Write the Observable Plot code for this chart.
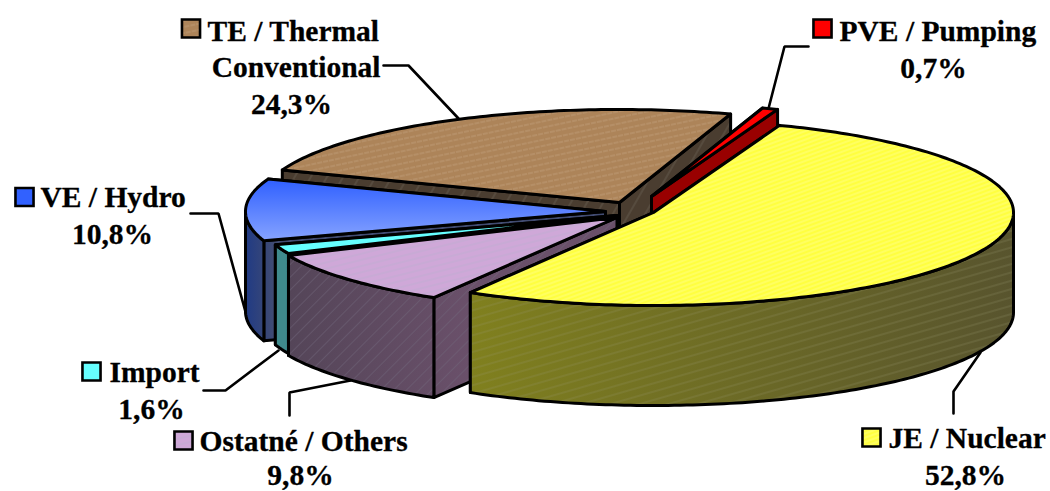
<!DOCTYPE html>
<html>
<head>
<meta charset="utf-8">
<script src="https://cdn.jsdelivr.net/npm/d3@7"></script>
<script src="https://cdn.jsdelivr.net/npm/@observablehq/plot@0.6"></script>
<style>html,body{margin:0;padding:0;background:#fff}svg{display:block}</style>
</head>
<body>
<div id="chart"></div>
<script>
// ---- data, clockwise from the starting angle
const names = ["JE / Nuclear", "Ostatné / Others", "Import", "VE / Hydro", "TE / Thermal Conventional", "PVE / Pumping"];
const shares = [52.8, 9.8, 1.6, 10.8, 24.3, 0.7];
const shareLabels = ["52,8%", "9,8%", "1,6%", "10,8%", "24,3%", "0,7%"];

// ---- layout of the pie
const startAngle = 69.5, rx = 360, ry = 93, depth = 100;
const apexX = [653, 616.5, 616.5, 605, 619, 651];
const apexY = [212, 217, 215, 211, 202, 196];
const paintOrder = [4, 5, 3, 2, 1, 0];

// ---- styles per slice
const topFill = ["url(#pTopY)", "url(#pTopO)", "#66ffff", "url(#gTopB)", "url(#pTopT)", "#ff0000"];
const wallFill = ["url(#gWallY)", "url(#gWallO)", "#3f8a8c", "url(#gWallB)", "#4a3d30", "#990000"];
const wallHatch = ["url(#hWallY)", "url(#hWallO)", null, null, "url(#hWallT)", null];

// ---- label layout: [text, x, y, anchor]
const labelLines = [
  ["TE / Thermal", 207, 40, "start"], ["Conventional", 380, 76, "end"], [shareLabels[4], 291, 113, "middle"],
  ["PVE / Pumping", 839, 40, "start"], [shareLabels[5], 933, 77, "middle"],
  ["VE / Hydro", 40, 206, "start"], [shareLabels[3], 112, 243, "middle"],
  ["Import", 109, 381, "start"], [shareLabels[2], 151, 418, "middle"],
  ["Ostatné / Others", 199, 450, "start"], [shareLabels[1], 300, 484.5, "middle"],
  ["JE / Nuclear", 888, 447, "start"], [shareLabels[0], 965, 484.5, "middle"]
];
const swatchX = [871, 183, 91, 24, 190.5, 822];
const swatchY = [437, 440, 371, 196.5, 28, 28];
const leaders = [
  [[953, 413], [953, 391], [980, 352]],
  [[289, 415], [289, 392], [350, 380]],
  [[203, 390], [225, 390], [278, 350]],
  [[190, 213], [218, 213], [246, 315]],
  [[383, 65], [408, 65], [458, 118]],
  [[808, 46], [784, 46], [768, 108]]
];

// ---- geometry derived from the values
const total = d3.sum(shares);
let running = startAngle;
const slices = shares.map((s, i) => {
  const t0 = running, t1 = running - s / total * 360;
  running = t1;
  return {i, t0, t1, cx: apexX[i], cy: apexY[i]};
});
const rad = Math.PI / 180;
const rim = (sl, t, dz = 0) => [sl.cx + rx * Math.cos(t * rad), sl.cy - ry * Math.sin(t * rad) + dz];
const arc = (sl, a, b, dz = 0) => {
  const n = Math.max(2, Math.ceil(Math.abs(a - b)));
  return d3.range(n + 1).map(k => rim(sl, a + (b - a) * k / n, dz));
};
const cutFace = (sl, t) => [[sl.cx, sl.cy], rim(sl, t), rim(sl, t, depth), [sl.cx, sl.cy + depth]];
// the front of the rim is where sin(t) <= 0: angles from -180 to 0
function wallPolys(sl) {
  const a = Math.min(sl.t0, 0), b = Math.max(sl.t1, -180);
  return a > b ? [[...arc(sl, a, b), ...arc(sl, b, a, depth)]] : [];
}

const marks = [];
const outline = {x: d => d[0], y: d => d[1], curve: "linear-closed", strokeLinejoin: "round"};
const face = (pts, fill, hatch) => {
  marks.push(Plot.line(pts, {...outline, fill, stroke: hatch ? "none" : "#000", strokeWidth: 3}));
  if (hatch) marks.push(Plot.line(pts, {...outline, fill: hatch, stroke: "#000", strokeWidth: 3}));
};

// leaders lie under the pie
for (const l of leaders) marks.push(Plot.line(l, {x: d => d[0], y: d => d[1], stroke: "#000", strokeWidth: 2.6, strokeLinejoin: "miter"}));

for (const i of paintOrder) {
  const sl = slices[i];
  const cuts = [sl.t0, sl.t1].sort((a, b) => rim(sl, a)[1] - rim(sl, b)[1]);
  for (const t of cuts) face(cutFace(sl, t), wallFill[i], wallHatch[i]);
  for (const w of wallPolys(sl)) face(w, wallFill[i], wallHatch[i]);
  face([[sl.cx, sl.cy], ...arc(sl, sl.t0, sl.t1)], topFill[i]);
}

// labels and swatches
for (const anchor of ["start", "middle", "end"]) {
  marks.push(Plot.text(labelLines.filter(d => d[3] === anchor), {
    x: d => d[1], y: d => d[2], text: d => d[0], textAnchor: anchor,
    lineAnchor: "bottom", fontFamily: "Liberation Serif", fontWeight: "bold", fontSize: 29.5, fill: "#000",
    stroke: "#000", strokeWidth: 0.3
  }));
}
shares.forEach((_, i) => marks.push(Plot.dot([i], {
  x: k => swatchX[k], y: k => swatchY[k], symbol: "square", r: 10.2,
  fill: topFill[i], stroke: "#000", strokeWidth: 2.6
})));

const chart = Plot.plot({
  width: 1050, height: 491, margin: 0,
  x: {domain: [0, 1050], axis: null},
  y: {domain: [491, 0], axis: null},
  marks
});

// paint definitions referred to by url(#...)
const hatch = (id, base, line, angle, gap, w, dash) => `
  <pattern id="${id}" patternUnits="userSpaceOnUse" width="${gap}" height="${gap}" patternTransform="rotate(${angle})">
    ${base ? `<rect width="${gap}" height="${gap}" fill="${base}"/>` : ""}
    <line x1="0" y1="${gap / 2}" x2="${gap}" y2="${gap / 2}" stroke="${line}" stroke-width="${w}" ${dash ? `stroke-dasharray="${dash}"` : ""}/>
  </pattern>`;
const grad = (id, x1, c1, x2, c2) => `
  <linearGradient id="${id}" gradientUnits="userSpaceOnUse" x1="${x1}" y1="0" x2="${x2}" y2="0">
    <stop offset="0" stop-color="${c1}"/><stop offset="1" stop-color="${c2}"/>
  </linearGradient>`;
const defs = document.createElementNS("http://www.w3.org/2000/svg", "defs");
defs.innerHTML = `
  ${hatch("pTopY", "#ffff40", "#ffff80", -20, 4, 1)}
  ${hatch("hWallY", null, "#94946c", -16, 8, 0.4)}
  ${hatch("pTopO", "#cfa8d8", "#b8accb", -14, 6, 0.6)}
  ${hatch("hWallO", null, "#70667a", -45, 9, 0.5)}
  ${hatch("pTopT", "#ad8459", "#bd9a75", -12, 6, 1, "5 5")}
  ${hatch("hWallT", null, "#7d7568", -60, 14, 0.5)}
  ${grad("gWallY", 471, "#80801e", 1013, "#58542e")}
  ${grad("gWallO", 288, "#544558", 470, "#6a506a")}
  ${grad("gWallB", 244, "#1f3a85", 275, "#424c72")}
  <linearGradient id="gTopB" gradientUnits="userSpaceOnUse" x1="0" y1="180" x2="0" y2="240">
    <stop offset="0" stop-color="#3161ff"/><stop offset="1" stop-color="#86a3ff"/>
  </linearGradient>`;
chart.insertBefore(defs, chart.firstChild);
document.getElementById("chart").append(chart);
</script>
</body>
</html>
